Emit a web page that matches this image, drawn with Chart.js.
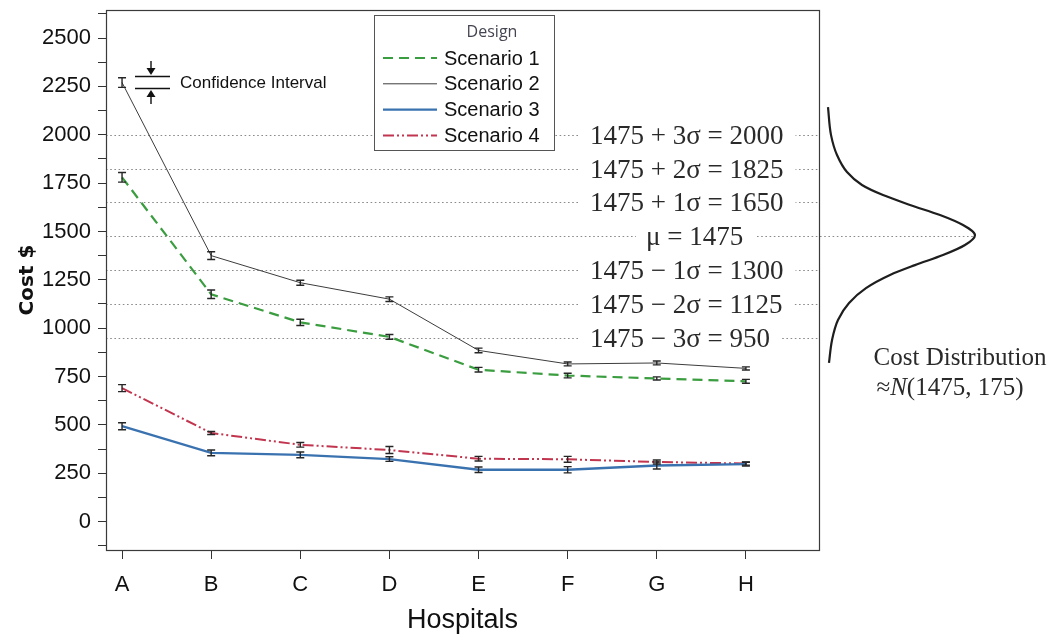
<!DOCTYPE html>
<html><head><meta charset="utf-8">
<script src="https://cdn.jsdelivr.net/npm/chart.js@4"></script>
<style>html,body{margin:0;padding:0;background:#fff;} canvas{display:block;}</style>
</head><body>
<canvas id="c" width="1051" height="637"></canvas>
<script>
// ---------- data ----------
const hospitals = ['A','B','C','D','E','F','G','H'];
const scenario1 = [1780, 1175, 1030, 955, 785, 755, 740, 725];
const scenario2 = [2270, 1375, 1235, 1150, 885, 815, 820, 792];
const scenario3 = [493, 355, 345, 323, 268, 268, 290, 297];
const scenario4 = [690, 458, 397, 370, 325, 322, 308, 300];
const err1 = [25, 22, 16, 12, 12, 12, 8, 10];
const err2 = [25, 20, 13, 12, 12, 10, 10, 8];
const err3 = [18, 15, 15, 12, 14, 16, 18, 10];
const err4 = [18, 8, 12, 18, 12, 15, 10, 8];
const yTicks = [0, 250, 500, 750, 1000, 1250, 1500, 1750, 2000, 2250, 2500];
const yMinorTicks = [-125, 125, 375, 625, 875, 1125, 1375, 1625, 1875, 2125, 2375, 2625];
const sigmaLevels = [2000, 1825, 1650, 1475, 1300, 1125, 950];
const sigmaLabels = ['1475 + 3σ = 2000', '1475 + 2σ = 1825', '1475 + 1σ = 1650', 'μ = 1475',
                     '1475 − 1σ = 1300', '1475 − 2σ = 1125', '1475 − 3σ = 950'];
const meanCost = 1475;
// sideways normal curve (x in hospital-axis units, y in cost)
const curveX = [7.921, 7.955, 8.022, 8.134, 8.302, 8.538, 8.841, 9.178, 9.436, 9.570,
                9.458, 9.211, 8.897, 8.617, 8.347, 8.157, 8.033, 7.966, 7.932];
const curveCost = [2143, 1998, 1895, 1807, 1740, 1688, 1637, 1585, 1533, 1481,
                   1430, 1378, 1326, 1275, 1207, 1130, 1042, 938, 820];
const curvePeakX = 9.57;
const scenarioNames = ['Scenario 1', 'Scenario 2', 'Scenario 3', 'Scenario 4'];

// ---------- styles ----------
const styles = [
  {color: '#3a9d3f', width: 2.2, dash: [10, 6]},
  {color: '#3c3c3c', width: 1, dash: []},
  {color: '#3a72b0', width: 2.4, dash: []},
  {color: '#c2354f', width: 2, dash: [11, 3, 2, 3, 2, 3]}
];
const seriesVals = [scenario1, scenario2, scenario3, scenario4];
const seriesErr = [err1, err2, err3, err4];

const datasets = seriesVals.map((vals, k) => ({
  label: scenarioNames[k],
  data: vals.map((v, i) => ({x: i, y: v})),
  err: seriesErr[k],
  borderColor: styles[k].color,
  borderWidth: styles[k].width,
  borderDash: styles[k].dash,
  pointRadius: 0,
  tension: 0,
  fill: false
}));
datasets.push({
  label: 'curve',
  indexAxis: 'y',
  data: curveX.map((x, i) => ({x: x, y: curveCost[i]})),
  borderColor: '#1e1e1e',
  borderWidth: 2.2,
  pointRadius: 0,
  cubicInterpolationMode: 'monotone',
  fill: false,
  clip: false
});

const overlay = {
  id: 'overlay',
  beforeDatasetsDraw(chart) {
    const {ctx, chartArea: ca, scales: {x, y}} = chart;
    ctx.save();
    // dotted reference lines
    ctx.strokeStyle = '#8a8a8a';
    ctx.lineWidth = 1;
    ctx.setLineDash([1.6, 2.6]);
    sigmaLevels.forEach(v => {
      const py = Math.round(y.getPixelForValue(v)) + 0.5;
      const xEnd = v === meanCost ? x.getPixelForValue(curvePeakX) : ca.right;
      ctx.beginPath(); ctx.moveTo(ca.left, py); ctx.lineTo(xEnd, py); ctx.stroke();
    });
    ctx.setLineDash([]);
    // labels with white boxes
    ctx.font = '27px "Liberation Serif", "Times New Roman", serif';
    ctx.textBaseline = 'alphabetic';
    ctx.textAlign = 'left';
    sigmaLabels.forEach((t, i) => {
      const py = y.getPixelForValue(sigmaLevels[i]);
      const lx = sigmaLevels[i] === meanCost ? 646 : 590;
      const w = ctx.measureText(t).width;
      ctx.fillStyle = '#fff';
      ctx.fillRect(lx - 10, py - 11, w + 22, 22);
      ctx.fillStyle = '#2a2a2a';
      ctx.fillText(t, lx, py + 9);
    });
    ctx.restore();
  },
  afterDatasetsDraw(chart) {
    const {ctx, chartArea: ca, scales: {x, y}} = chart;
    ctx.save();
    // error bars
    ctx.strokeStyle = '#262626';
    ctx.lineWidth = 1.4;
    chart.data.datasets.forEach(ds => {
      if (!ds.err) return;
      ds.data.forEach((p, i) => {
        const px = x.getPixelForValue(p.x);
        const y1 = y.getPixelForValue(p.y - ds.err[i]);
        const y2 = y.getPixelForValue(p.y + ds.err[i]);
        ctx.beginPath();
        ctx.moveTo(px, y1); ctx.lineTo(px, y2);
        ctx.moveTo(px - 4, y1); ctx.lineTo(px + 4, y1);
        ctx.moveTo(px - 4, y2); ctx.lineTo(px + 4, y2);
        ctx.stroke();
      });
    });
    // frame
    ctx.strokeStyle = '#3a3a3a';
    ctx.lineWidth = 1.2;
    ctx.strokeRect(ca.left + 0.5, ca.top + 0.5, ca.right - ca.left, ca.bottom - ca.top);
    // legend
    const lx = 374, ly = 15, lw = 180, lh = 135;
    ctx.fillStyle = '#fff';
    ctx.fillRect(lx, ly, lw, lh);
    ctx.strokeStyle = '#555';
    ctx.lineWidth = 1;
    ctx.strokeRect(lx + 0.5, ly + 0.5, lw, lh);
    ctx.fillStyle = '#454552';
    ctx.font = '16px "Open Sans", "Noto Sans", sans-serif';
    ctx.textAlign = 'center';
    ctx.textBaseline = 'middle';
    ctx.fillText('Design', 492, 32);
    ctx.font = '20px "Liberation Sans", Arial, sans-serif';
    ctx.textAlign = 'left';
    scenarioNames.forEach((n, k) => {
      const ry = 58 + k * 25.8;
      ctx.strokeStyle = styles[k].color;
      ctx.lineWidth = styles[k].width;
      ctx.setLineDash(styles[k].dash);
      ctx.beginPath(); ctx.moveTo(383, ry); ctx.lineTo(437, ry); ctx.stroke();
      ctx.setLineDash([]);
      ctx.fillStyle = '#111';
      ctx.fillText(n, 444, ry + 1);
    });
    // confidence-interval key
    ctx.strokeStyle = '#111';
    ctx.fillStyle = '#111';
    ctx.lineWidth = 1.4;
    ctx.beginPath();
    ctx.moveTo(135, 76.5); ctx.lineTo(170, 76.5);
    ctx.moveTo(135, 88.5); ctx.lineTo(170, 88.5);
    ctx.moveTo(151, 61); ctx.lineTo(151, 70);
    ctx.moveTo(151, 104); ctx.lineTo(151, 95);
    ctx.stroke();
    ctx.beginPath(); ctx.moveTo(146.5, 68); ctx.lineTo(155.5, 68); ctx.lineTo(151, 75); ctx.closePath(); ctx.fill();
    ctx.beginPath(); ctx.moveTo(146.5, 97); ctx.lineTo(155.5, 97); ctx.lineTo(151, 90); ctx.closePath(); ctx.fill();
    ctx.font = '17px "Liberation Sans", Arial, sans-serif';
    ctx.textBaseline = 'middle';
    ctx.fillText('Confidence Interval', 180, 83);
    // distribution caption
    ctx.fillStyle = '#2a2a2a';
    const serif = '25px "Liberation Serif", "Times New Roman", serif';
    const serifI = 'italic 25px "Liberation Serif", "Times New Roman", serif';
    ctx.font = serif;
    ctx.textAlign = 'center';
    ctx.textBaseline = 'alphabetic';
    ctx.fillText('Cost Distribution', 960, 365);
    // "≈N(1475, 175)" drawn piece by piece, centred
    const parts = [['≈', serif], ['N', serifI], ['(1475, 175)', serif]];
    const widths = parts.map(([t, f]) => { ctx.font = f; return ctx.measureText(t).width; });
    const total = widths.reduce((a, b) => a + b, 0);
    let cx = 950 - total / 2;
    ctx.textAlign = 'left';
    parts.forEach(([t, f], i) => { ctx.font = f; ctx.fillText(t, cx, 395); cx += widths[i]; });
    ctx.restore();
  }
};

new Chart(document.getElementById('c'), {
  type: 'line',
  data: {datasets},
  plugins: [overlay],
  options: {
    responsive: false,
    animation: false,
    events: [],
    layout: {padding: {left: 0, right: 232, top: 10, bottom: 0}},
    plugins: {legend: {display: false}, tooltip: {enabled: false}},
    scales: {
      x: {
        type: 'linear',
        min: -0.18, max: 7.82,
        afterFit: s => { s.height = 87; s.paddingLeft = 0; s.paddingRight = 0; },
        afterBuildTicks: s => { s.ticks = hospitals.map((h, i) => ({value: i})); },
        ticks: {
          autoSkip: false,
          callback: v => hospitals[v],
          color: '#111',
          font: {family: '"Liberation Sans", Arial, sans-serif', size: 22},
          padding: 13,
          maxRotation: 0
        },
        grid: {display: true, drawOnChartArea: false, drawTicks: true, tickLength: 9, color: '#333', lineWidth: 1},
        border: {display: false},
        title: {
          display: true, text: 'Hospitals', color: '#111',
          font: {family: '"Liberation Sans", Arial, sans-serif', size: 27},
          padding: {top: 0, bottom: 0}
        }
      },
      y: {
        type: 'linear',
        min: -147, max: 2645,
        afterFit: s => { s.width = 106; s.paddingTop = 0; s.paddingBottom = 0; },
        afterBuildTicks: s => {
          s.ticks = yTicks.concat(yMinorTicks).sort((a, b) => a - b).map(v => ({value: v}));
        },
        ticks: {
          autoSkip: false,
          callback: v => (yTicks.includes(v) ? String(v) : ''),
          color: '#111',
          font: {family: '"Liberation Sans", Arial, sans-serif', size: 22},
          padding: 7
        },
        grid: {display: true, drawOnChartArea: false, drawTicks: true, tickLength: 8, color: '#333', lineWidth: 1},
        border: {display: false},
        title: {
          display: true, text: 'Cost $', color: '#111',
          font: {family: '"DejaVu Sans", sans-serif', size: 20, weight: 'bold'},
          padding: {top: 16, bottom: 0}
        }
      }
    }
  }
});
</script>
</body></html>
